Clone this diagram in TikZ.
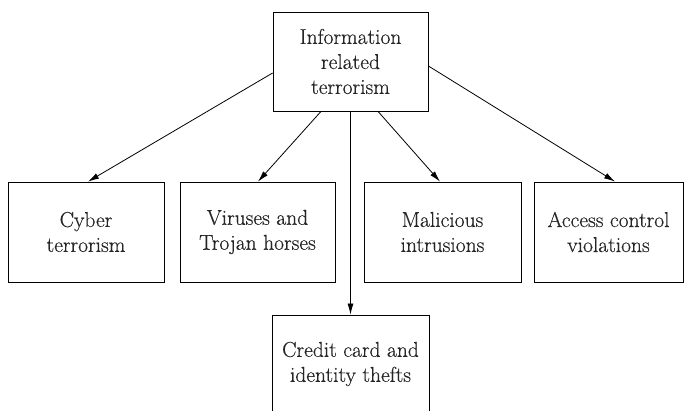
\documentclass[tikz,border=0pt]{standalone}
\usepackage{fontspec}
\setmainfont{Latin Modern Roman}[FakeBold=0.4]
\usetikzlibrary{arrows.meta}
\begin{document}
\begin{tikzpicture}[x=1pt,y=-1pt,
  box/.style={draw, line width=0.8pt, align=center, inner sep=0pt,
    font=\fontsize{21.5}{25}\selectfont, text=black!85},
  link/.style={line width=0.8pt, -{Latex[length=11pt,width=6pt]}}]
\useasboundingbox (0,0) rectangle (685,411);
\fill[white] (0,0) rectangle (685,411);

\node[box, minimum width=155pt, minimum height=99pt] (top) at (350.5,61.5)
  {Information\\related\\terrorism};

\node[box, minimum width=156pt, minimum height=100pt] (cyber) at (86,232)
  {Cyber\\terrorism};
\node[box, minimum width=155pt, minimum height=100pt] (virus) at (257.5,232)
  {Viruses and\\Trojan horses};
\node[box, minimum width=157pt, minimum height=100pt] (malic) at (442.5,232)
  {Malicious\\intrusions};
\node[box, minimum width=149pt, minimum height=100pt] (access) at (608.5,232)
  {Access control\\violations};
\node[box, minimum width=157pt, minimum height=98pt] (credit) at (350.5,364)
  {Credit card and\\identity thefts};

\draw[link] ([yshift=-11.5pt]top.west) -- ([xshift=2pt]cyber.north);
\draw[link] ([xshift=-29.5pt]top.south) -- ([xshift=0.5pt]virus.north);
\draw[link] (top.south) -- (credit.north);
\draw[link] ([xshift=27.5pt]top.south) -- ([xshift=-2.5pt]malic.north);
\draw[link] ([yshift=-4.5pt]top.east) -- ([xshift=6.5pt]access.north);
\end{tikzpicture}
\end{document}
